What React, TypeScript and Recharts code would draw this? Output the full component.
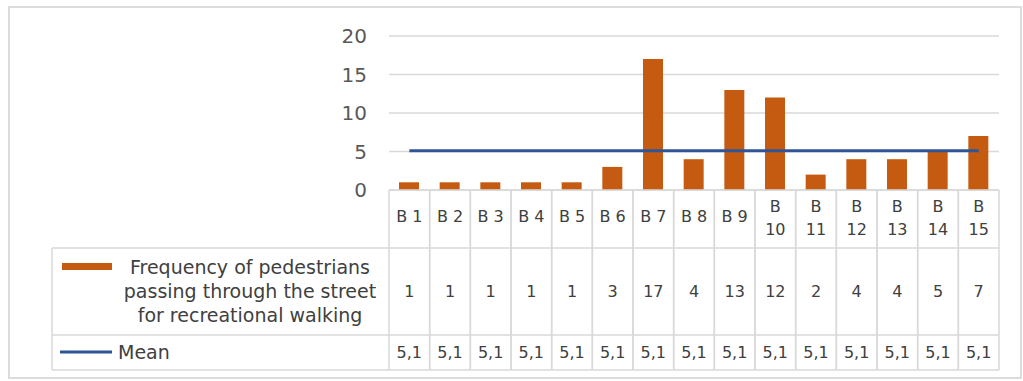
import React from "react";
import { ComposedChart, Bar, Line, XAxis, YAxis, CartesianGrid } from "recharts";

const categories = ["B 1", "B 2", "B 3", "B 4", "B 5", "B 6", "B 7", "B 8", "B 9", "B 10", "B 11", "B 12", "B 13", "B 14", "B 15"];
const frequency = [1, 1, 1, 1, 1, 3, 17, 4, 13, 12, 2, 4, 4, 5, 7];
const mean = [5.1, 5.1, 5.1, 5.1, 5.1, 5.1, 5.1, 5.1, 5.1, 5.1, 5.1, 5.1, 5.1, 5.1, 5.1];
const yTicks = [0, 5, 10, 15, 20];
const freqLabel = ["Frequency of pedestrians", "passing through the street", "for recreational walking"];
const meanLabel = "Mean";

const W = 1023;
const H = 381;
const PLOT_L = 389;
const PLOT_R = 999;
const PLOT_T = 36;
const PLOT_B = 190;
const COL_W = (PLOT_R - PLOT_L) / categories.length;
const HDR_H = 58;
const FREQ_H = 145;
const MEAN_H = 180;
const LEG_L = 52;

const BAR_COLOR = "#c55a11";
const LINE_COLOR = "#2f5597";
const BORDER = "#d9d9d9";
const TEXT = "#404040";

const data = categories.map((c, i) => ({ name: c, freq: frequency[i], mean: mean[i] }));

const fmt = (v: number) => String(v).replace(".", ",");

const TableTick = (props: any) => {
  const { x, y, payload } = props;
  const i = payload.index;
  const left = x - COL_W / 2;
  const right = x + COL_W / 2;
  const label: string = payload.value;
  const parts = label.length > 3 ? label.split(" ") : [label];
  return (
    <g>
      <line x1={left} x2={right} y1={y} y2={y} stroke={BORDER} strokeWidth={1.5} />
      <line x1={left} x2={right} y1={y + HDR_H} y2={y + HDR_H} stroke={BORDER} strokeWidth={1.5} />
      <line x1={left} x2={right} y1={y + FREQ_H} y2={y + FREQ_H} stroke={BORDER} strokeWidth={1.5} />
      <line x1={left} x2={right} y1={y + MEAN_H} y2={y + MEAN_H} stroke={BORDER} strokeWidth={1.5} />
      <line x1={left} x2={left} y1={y} y2={y + MEAN_H} stroke={BORDER} strokeWidth={1.5} />
      <line x1={right} x2={right} y1={y} y2={y + MEAN_H} stroke={BORDER} strokeWidth={1.5} />
      {parts.length === 1 ? (
        <text x={x} y={y + 26} textAnchor="middle" dominantBaseline="central" fontSize={16} fill={TEXT}>
          {label}
        </text>
      ) : (
        parts.map((p, k) => (
          <text key={k} x={x} y={y + 16 + k * 23} textAnchor="middle" dominantBaseline="central" fontSize={16} fill={TEXT}>
            {p}
          </text>
        ))
      )}
      <text x={x} y={y + 101} textAnchor="middle" dominantBaseline="central" fontSize={16} fill={TEXT}>
        {frequency[i]}
      </text>
      <text x={x} y={y + 162} textAnchor="middle" dominantBaseline="central" fontSize={16} fill={TEXT}>
        {fmt(mean[i])}
      </text>
      {i === 0 && (
        <g>
          <line x1={LEG_L} x2={left} y1={y + HDR_H} y2={y + HDR_H} stroke={BORDER} strokeWidth={1.5} />
          <line x1={LEG_L} x2={left} y1={y + FREQ_H} y2={y + FREQ_H} stroke={BORDER} strokeWidth={1.5} />
          <line x1={LEG_L} x2={left} y1={y + MEAN_H} y2={y + MEAN_H} stroke={BORDER} strokeWidth={1.5} />
          <line x1={LEG_L} x2={LEG_L} y1={y + HDR_H} y2={y + MEAN_H} stroke={BORDER} strokeWidth={1.5} />
          <rect x={62} y={y + 73} width={50} height={7} fill={BAR_COLOR} />
          {freqLabel.map((t, k) => (
            <text key={k} x={250} y={y + 77 + k * 24} textAnchor="middle" dominantBaseline="central" fontSize={19} fill={TEXT}>
              {t}
            </text>
          ))}
          <line x1={60} x2={112} y1={y + 162} y2={y + 162} stroke={LINE_COLOR} strokeWidth={3} />
          <text x={118} y={y + 162} textAnchor="start" dominantBaseline="central" fontSize={19} fill={TEXT}>
            {meanLabel}
          </text>
        </g>
      )}
    </g>
  );
};

export default function App() {
  return (
    <div
      style={{
        position: "absolute",
        left: 0,
        top: 0,
        width: W,
        height: H,
        background: "#fff",
        fontFamily: "'DejaVu Sans', sans-serif",
      }}
    >
      <div
        style={{
          position: "absolute",
          left: 8,
          top: 6,
          width: 1014,
          height: 373,
          border: "2px solid #dcdcdc",
          boxSizing: "border-box",
        }}
      />
      <div style={{ position: "absolute", left: 0, top: 0 }}>
        <ComposedChart
          width={W}
          height={H}
          data={data}
          margin={{ top: PLOT_T, right: W - PLOT_R, bottom: 0, left: 0 }}
          barCategoryGap={0}
        >
          <CartesianGrid vertical={false} stroke={BORDER} strokeWidth={1.5} />
          <XAxis
            dataKey="name"
            height={H - PLOT_B}
            axisLine={false}
            tickLine={false}
            tickSize={0}
            tickMargin={0}
            interval={0}
            tick={<TableTick />}
          />
          <YAxis
            width={PLOT_L}
            domain={[0, 20]}
            ticks={yTicks}
            axisLine={false}
            tickLine={false}
            tickMargin={16}
            tick={{ fill: "#595959", fontSize: 20 }}
          />
          <Bar dataKey="freq" fill={BAR_COLOR} barSize={20} isAnimationActive={false} />
          <Line
            dataKey="mean"
            stroke={LINE_COLOR}
            strokeWidth={3}
            dot={false}
            activeDot={false}
            isAnimationActive={false}
          />
        </ComposedChart>
      </div>
    </div>
  );
}
